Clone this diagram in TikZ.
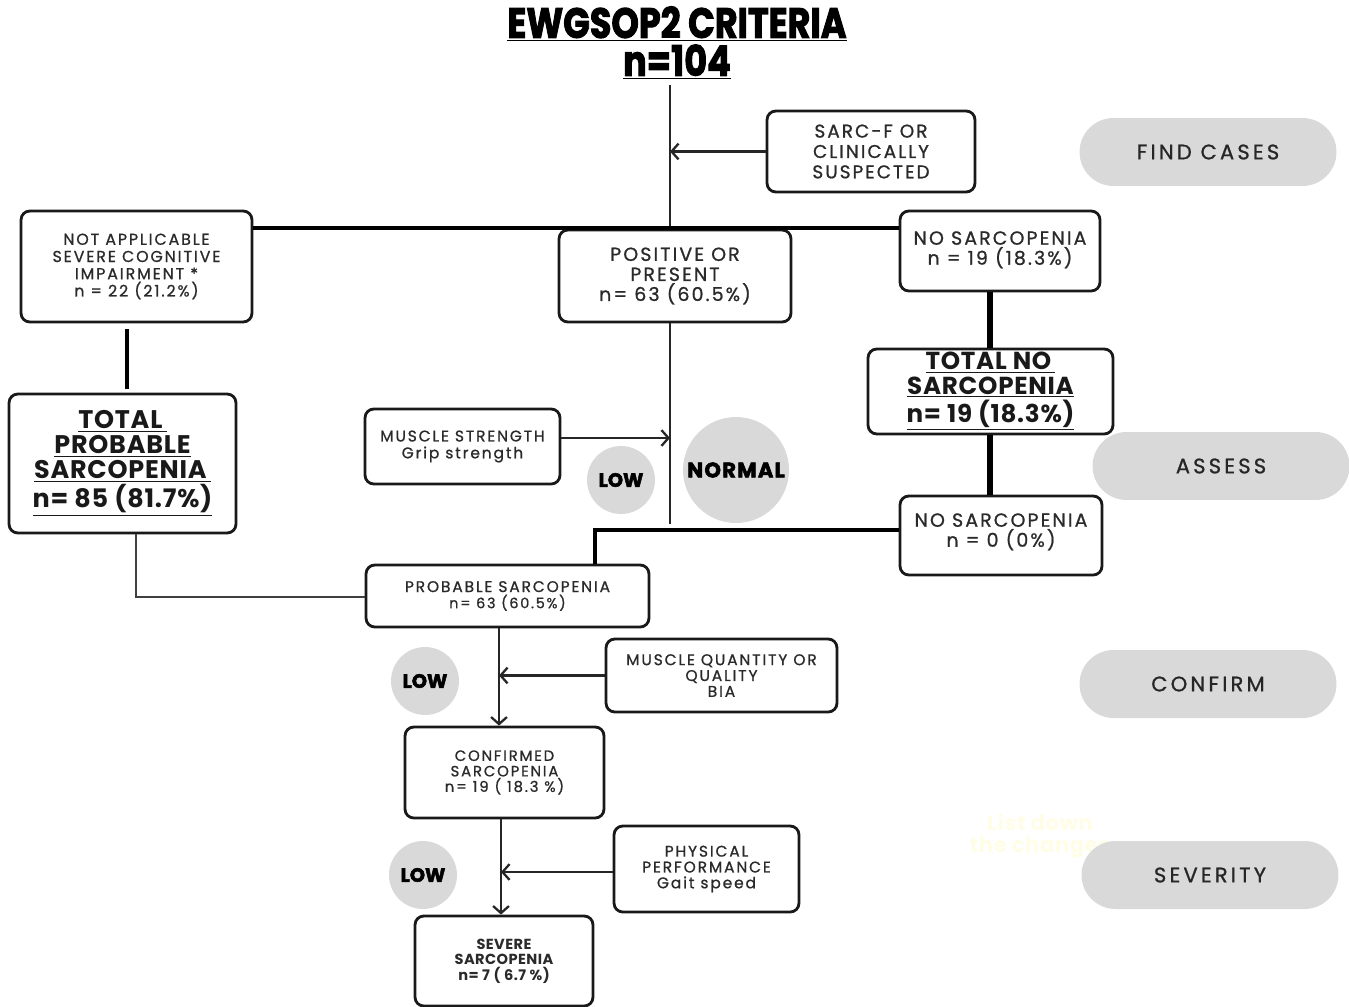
\documentclass[tikz,border=0pt]{standalone}
\usepackage{fontspec}
\usepackage{graphicx}
\setmainfont{Poppins}[LetterSpace=11, UprightFeatures={FakeBold=0.9}, BoldFeatures={LetterSpace=3}]
\newfontfamily\heavy{Poppins}[BoldFeatures={FakeBold=2.5}]
\usetikzlibrary{arrows.meta,calc}
\definecolor{txt}{HTML}{2A2A2A}
\definecolor{pill}{HTML}{D9D9D9}
\definecolor{ghost}{HTML}{FFFDE6}
\newcommand\fs[2]{\fontsize{#1}{#2}\selectfont}
\newcommand\wide{\addfontfeature{LetterSpace=12}}
\begin{document}
\begin{tikzpicture}[x=0.02cm,y=-0.02cm,
 box/.style={draw=black!90, line width=1.6pt, rounded corners=5pt, align=center, inner sep=0pt, text=txt},
 pillbox/.style={fill=pill, rounded corners=0.68cm, minimum width=5.14cm, minimum height=1.36cm, inner sep=0pt, font=\fs{12}{14}\addfontfeature{LetterSpace=15}, text=black!85},
 circ/.style={circle, fill=pill, inner sep=0pt, font=\heavy\bfseries},
 arr/.style={-{Straight Barb[length=4pt,width=9pt]}, line width=1.3pt, black!85},
 ]
\useasboundingbox (0,0) rectangle (1349,1007);
% title
\node[font=\heavy\bfseries\fs{24}{26}] (t1) at (677,24) {\scalebox{0.83}[1]{\underline{EWGSOP2 CRITERIA}}};
\node[font=\heavy\bfseries\fs{24}{26}] (t2) at (677,62) {\scalebox{0.83}[1]{\underline{n=104}}};
% pills
\node[pillbox] (p1) at (1208,152) {FIND CASES};
\node[pillbox] (p2) at (1221,466) {ASSESS};
\node[pillbox] (p3) at (1208,684) {CONFIRM};
\node[font=\bfseries\fs{12}{13}, text=ghost, align=center] (gh) at (1040,836) {List down\\the changes};
\node[pillbox] (p4) at (1210,875) {SEVERITY};
% circles
\node[circ, minimum size=1.36cm, font=\heavy\bfseries\fs{11}{12}] (low1) at (621,480) {LOW};
\node[circ, minimum size=2.12cm, font=\heavy\bfseries\fs{12}{13}\addfontfeature{LetterSpace=6}] (norm) at (736,470) {NORMAL};
\node[circ, minimum size=1.36cm, font=\heavy\bfseries\fs{11}{12}] (low2) at (425,681) {LOW};
\node[circ, minimum size=1.36cm, font=\heavy\bfseries\fs{11}{12}] (low3) at (423,875) {LOW};
% boxes
\node[box, minimum width=4.16cm, minimum height=1.62cm, font=\fs{10.5}{11.6}] (sarc) at (871,151.5) {SARC-F OR\\CLINICALLY\\SUSPECTED};
\node[box, minimum width=4.62cm, minimum height=2.22cm, font=\fs{9}{9.8}\wide] (na) at (136.5,266.5) {NOT APPLICABLE\\SEVERE COGNITIVE\\IMPAIRMENT *\\n = 22 (21.2\%)};
\node[box, minimum width=4.64cm, minimum height=1.84cm, font=\fs{10.8}{11.4}] (pos) at (675,276) {POSITIVE OR\\PRESENT\\n= 63 (60.5\%)};
\node[box, minimum width=4.0cm, minimum height=1.6cm, font=\fs{10.8}{11.4}] (ns) at (1000,251) {NO SARCOPENIA\\n = 19 (18.3\%)\\[-8pt]};
\node[box, minimum width=4.9cm, minimum height=1.7cm, font=\bfseries\fs{14}{13.8}, text=black!90] (tns) at (990.5,391.5) {\underline{TOTAL NO\,}\\\underline{SARCOPENIA}\\\underline{n= 19 (18.3\%)}};
\node[box, minimum width=4.04cm, minimum height=1.58cm, font=\fs{10.8}{11.4}] (ns0) at (1001,535.5) {NO SARCOPENIA\\n = 0 (0\%)\\[-5.2pt]};
\node[box, minimum width=4.54cm, minimum height=2.78cm, font=\bfseries\fs{14.5}{14.2}, text=black!90] (tp) at (122.5,463.5) {\underline{TOTAL\,}\\\underline{PROBABLE}\\\underline{SARCOPENIA\,}\\\underline{n= 85 (81.7\%)}};
\node[box, minimum width=3.9cm, minimum height=1.5cm, font=\fs{8.8}{9.6}\wide] (ms) at (462.5,446.5) {MUSCLE STRENGTH\\Grip strength};
\node[box, minimum width=5.66cm, minimum height=1.24cm, font=\fs{8.8}{9.2}\wide] (ps) at (507.5,596) {PROBABLE SARCOPENIA\\{\fs{8.2}{9}n= 63 (60.5\%)}};
\node[box, minimum width=4.62cm, minimum height=1.46cm, font=\fs{8.8}{9}\wide] (mq) at (721.5,675.5) {MUSCLE QUANTITY OR\\QUALITY\\BIA};
\node[box, minimum width=3.98cm, minimum height=1.82cm, font=\fs{8.5}{8.8}\wide] (cf) at (504.5,772.5) {CONFIRMED\\SARCOPENIA\\n= 19 ( 18.3 \%)};
\node[box, minimum width=3.7cm, minimum height=1.72cm, font=\fs{8.8}{9}\wide] (pp) at (706.5,869) {PHYSICAL\\PERFORMANCE\\Gait speed};
\node[box, minimum width=3.56cm, minimum height=1.8cm, font=\bfseries\fs{8.3}{8.8}\addfontfeature{LetterSpace=12}] (sv) at (504,961) {SEVERE\\SARCOPENIA\\n= 7 ( 6.7 \%)};
% connectors
\coordinate (s1) at (670,85);
\coordinate (s2) at (670,524);
\coordinate (hl) at (670,228);
\draw[line width=1.1pt, black!85] (s1) -- (s1 |- pos.north);
\draw[line width=1.1pt, black!85] (s1 |- pos.south) -- (s2);
\draw[line width=2.3pt] (na.east |- hl) -- (ns.west |- hl);
\draw[arr] (sarc.west) -- (sarc.west -| s1);
\draw[arr] (ms.east |- 0,438) -- (s1 |- 0,438);
\draw[line width=3.4pt] (ns.south -| 990,0) -- (tns.north -| 990,0);
\draw[line width=3.4pt] (tns.south -| 990,0) -- (ns0.north -| 990,0);
\draw[line width=2.3pt] (ns0.west |- 0,530) -| (ps.north -| 595,0);
\draw[line width=2.3pt] ($(na.south -| 127,0)+(0,6)$) -- ($(tp.north -| 127,0)+(0,-4)$);
\draw[line width=1.6pt, black!75] (tp.south -| 136,0) |- (ps.west |- 0,597);
\coordinate (c1) at (499,0);
\coordinate (c2) at (501,0);
\draw[arr] (ps.south -| c1) -- (cf.north -| c1);
\draw[arr] (mq.west) -- (mq.west -| c1);
\draw[arr] (cf.south -| c2) -- (sv.north -| c2);
\draw[arr] (pp.west |- 0,872) -- (c2 |- 0,872);
\end{tikzpicture}
\end{document}
